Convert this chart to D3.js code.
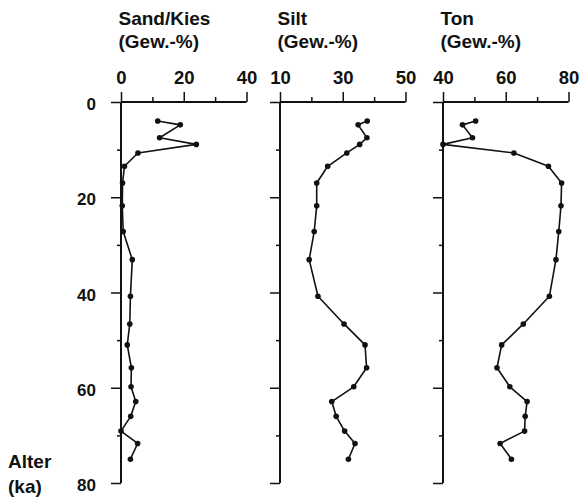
<!DOCTYPE html>
<html><head><meta charset="utf-8">
<script src="https://cdn.jsdelivr.net/npm/d3@7"></script>
<style>
html,body{margin:0;padding:0;background:#fff;}
svg text{font-family:"Liberation Sans",Arial,Helvetica,sans-serif;font-weight:bold;fill:#111;}
</style></head>
<body>
<svg id="chart" width="584" height="499"></svg>
<script>
// Age of each sample (ka)
const ages = [4.0, 4.8, 7.5, 8.9, 10.7, 13.5, 17.0, 21.8, 27.2, 33.1, 40.8, 46.6, 51.0, 55.8, 59.8, 62.9, 66.0, 69.1, 71.7, 75.0];
// Grain size fractions (Gew.-%)
const sandKies = [11.7, 18.9, 12.3, 24.0, 5.4, 1.1, 0.5, 0.4, 0.7, 3.6, 3.0, 2.8, 2.0, 3.3, 3.2, 4.7, 3.1, 0.0, 5.3, 3.0];
const silt = [37.8, 34.9, 37.7, 35.4, 31.3, 25.2, 21.7, 21.7, 20.9, 19.3, 22.1, 30.4, 37.1, 37.6, 33.5, 26.5, 27.9, 30.6, 33.9, 31.8];
const ton = [50.4, 46.2, 49.4, 40.0, 62.6, 73.6, 77.8, 77.6, 76.9, 76.0, 73.9, 65.6, 58.7, 57.2, 61.3, 66.8, 66.2, 66.0, 58.2, 61.8];
// Panel titles and axes
const titles = [["Sand/Kies", "(Gew.-%)"], ["Silt", "(Gew.-%)"], ["Ton", "(Gew.-%)"]];
const domains = [[0, 40], [10, 50], [40, 80]];
const majorX = [[0, 20, 40], [10, 30, 50], [40, 60, 80]];
const minorX = [[10, 30], [20, 40], [50, 70]];
const ageMajor = [0, 20, 40, 60, 80];
const ageMinor = [10, 30, 50, 70];
const yLabel = ["Alter", "(ka)"];

const series = [sandKies, silt, ton];
const panelLeft = [121, 280, 443];
const panelWidth = 125.5;

const svg = d3.select("#chart");
const y = d3.scaleLinear().domain([0, 80]).range([102, 483]);

series.forEach((vals, i) => {
  const x = d3.scaleLinear().domain(domains[i]).range([panelLeft[i], panelLeft[i] + panelWidth]);
  const g = svg.append("g");
  const x0 = x(domains[i][0]);

  // Titles
  g.append("text").attr("x", x0 - 2.5).attr("y", 25).attr("font-size", 19).text(titles[i][0]);
  g.append("text").attr("x", x0 - 2.5).attr("y", 48).attr("font-size", 19).text(titles[i][1]);

  // x axis (top), major and minor ticks
  const axM = d3.axisTop(x).tickValues(majorX[i]).tickSize(10).tickPadding(8.5).tickFormat(d3.format("d"));
  const gxM = g.append("g").attr("transform", `translate(0,${y(0)})`).call(axM);
  const axm = d3.axisTop(x).tickValues(minorX[i]).tickSize(5).tickFormat("");
  const gxm = g.append("g").attr("transform", `translate(0,${y(0)})`).call(axm);
  [gxM, gxm].forEach(a => {
    a.select(".domain").remove();
    a.selectAll("line").attr("stroke", "#111").attr("stroke-width", 1.5);
  });
  gxM.selectAll("text").attr("font-size", 18.5).attr("fill", "#111").attr("font-family", null);

  // y axis (left), major and minor ticks
  const ayM = d3.axisLeft(y).tickValues(ageMajor).tickSize(10).tickPadding(15)
    .tickFormat(i === 0 ? d3.format("d") : "");
  const gyM = g.append("g").attr("transform", `translate(${x0},0)`).call(ayM);
  const aym = d3.axisLeft(y).tickValues(ageMinor).tickSize(4).tickFormat("");
  const gym = g.append("g").attr("transform", `translate(${x0},0)`).call(aym);
  [gyM, gym].forEach(a => {
    a.select(".domain").remove();
    a.selectAll("line").attr("stroke", "#111").attr("stroke-width", 1.5);
  });
  gyM.selectAll("text").attr("font-size", 17).attr("fill", "#111").attr("font-family", null).attr("dy", "0.45em");

  // axis lines
  g.append("line").attr("x1", x0).attr("x2", x(domains[i][1])).attr("y1", y(0)).attr("y2", y(0))
    .attr("stroke", "#111").attr("stroke-width", 2);
  g.append("line").attr("x1", x0).attr("x2", x0).attr("y1", y(0)).attr("y2", y(80))
    .attr("stroke", "#111").attr("stroke-width", 2);

  // profile line
  const line = d3.line().x((d, j) => x(d)).y((d, j) => y(ages[j]));
  g.append("path").datum(vals).attr("d", line).attr("fill", "none")
    .attr("stroke", "#111").attr("stroke-width", 1.6).attr("stroke-linejoin", "round");
  g.selectAll("circle").data(vals).join("circle")
    .attr("cx", d => x(d)).attr("cy", (d, j) => y(ages[j])).attr("r", 2.8).attr("fill", "#111");
});

svg.append("text").attr("x", 8).attr("y", 468).attr("font-size", 19).text(yLabel[0]);
svg.append("text").attr("x", 8).attr("y", 493).attr("font-size", 19).text(yLabel[1]);
</script>
</body></html>
